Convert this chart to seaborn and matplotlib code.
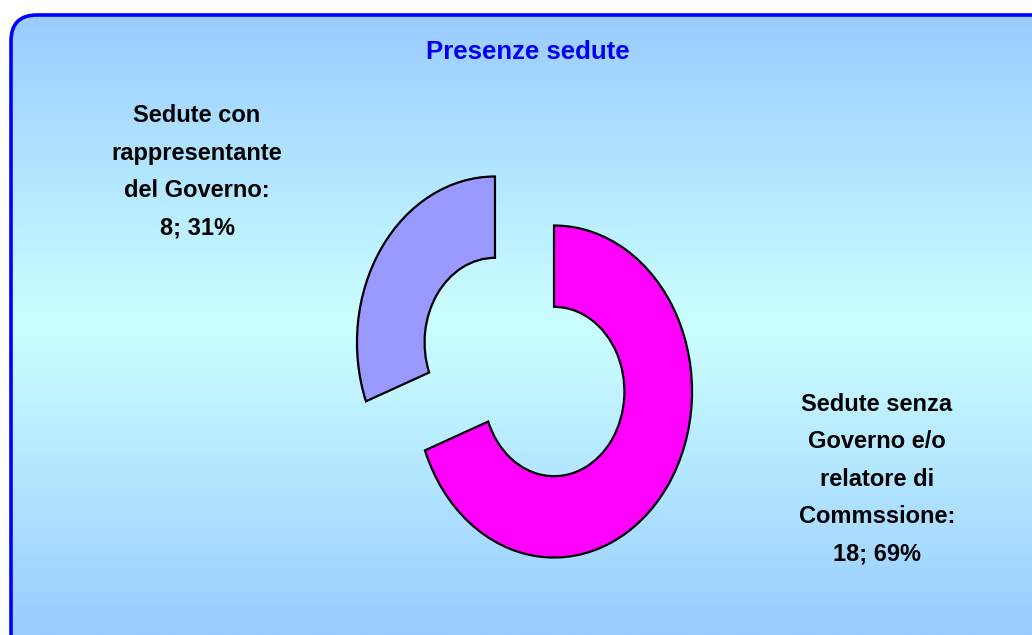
import numpy as np
import matplotlib
matplotlib.use("Agg")
import matplotlib.pyplot as plt
from matplotlib.patches import FancyBboxPatch
import seaborn as sns

# ---- data ----
categories = ["Sedute con\nrappresentante\ndel Governo", "Sedute senza\nGoverno e/o\nrelatore di\nCommssione"]
values = [8, 18]
colors = ["#9999FF", "#FF00FF"]
title = "Presenze sedute"

sns.set_theme(style="white")
plt.rcParams['font.family'] = ['Liberation Sans Narrow', 'Liberation Sans', 'DejaVu Sans']

W, H = 1032, 635
fig = plt.figure(figsize=(W / 100, H / 100), dpi=100)
fig.patch.set_facecolor("white")

# background axes in pixel coordinates
bg = fig.add_axes([0, 0, 1, 1])
bg.set_xlim(0, W)
bg.set_ylim(H, 0)
bg.axis("off")
frame = FancyBboxPatch((11, 15), 1060, 660, boxstyle="round,pad=0,rounding_size=26",
                       facecolor="none", edgecolor="#0000FF", linewidth=2.6, zorder=3)
bg.add_patch(frame)
# vertical gradient: light blue -> light cyan -> light blue
c_edge = np.array([0x99, 0xCC, 0xFF]) / 255
c_mid = np.array([0xCC, 0xFF, 0xFF]) / 255
ys = np.linspace(0, 1, 400)
t = 1 - np.abs(ys - 0.5) * 2
grad = (c_edge[None, :] * (1 - t[:, None]) + c_mid[None, :] * t[:, None])[:, None, :]
im = bg.imshow(grad, extent=(11, 1071, 635, 15), aspect="auto", zorder=1)
im.set_clip_path(FancyBboxPatch((11, 15), 1060, 660, boxstyle="round,pad=0,rounding_size=26",
                                transform=bg.transData))
bg.text(528, 52, title, ha="center", va="center", fontsize=18.5, fontweight="bold",
        color="#0000EE", family=["Liberation Sans", "DejaVu Sans"])

# pie axes
ax = fig.add_axes([0, 0, 1, 1])
ax.patch.set_alpha(0)
ax.pie(values, colors=colors, startangle=90, explode=[0.26, 0.26], radius=1,
       wedgeprops=dict(width=0.49, edgecolor="black", linewidth=1.6))
sx, sy = 138.0, 166.0
cx, cy = 524.5, 367.0
ax.set_aspect("auto")
ax.set_xlim(-cx / sx, (W - cx) / sx)
ax.set_ylim(-(H - cy) / sy, cy / sy)
ax.axis("off")

total = sum(values)
labels = [f"{c}:\n{v}; {round(100 * v / total)}%" for c, v in zip(categories, values)]
label_pos = [(197, 172), (877, 479)]
for lab, (px, py) in zip(labels, label_pos):
    bg.text(px, py, lab, ha="center", va="center", fontsize=17, fontweight="bold",
            color="black", linespacing=1.8)

fig.savefig("out.png", dpi=100)
